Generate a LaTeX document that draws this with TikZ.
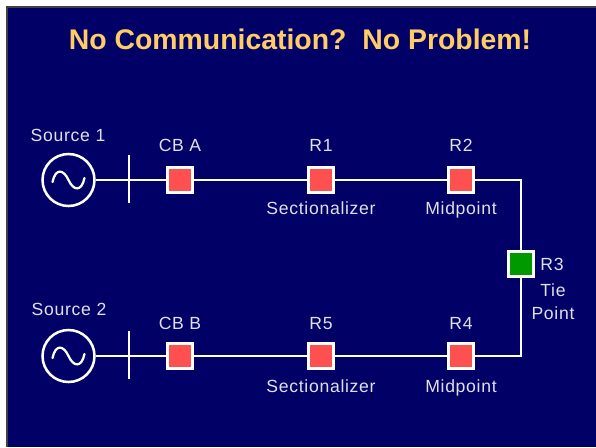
\documentclass[tikz,border=0pt]{standalone}
\usepackage{fontspec}
\setmainfont{Liberation Sans}
\usetikzlibrary{positioning}
\usetikzlibrary{calc}
\definecolor{slide}{HTML}{000066}
\definecolor{title}{HTML}{FFCC66}
\definecolor{recloser}{HTML}{FF5050}
\definecolor{tiegreen}{HTML}{009900}
\tikzset{
    line/.style={draw=white, line width=2pt},
    source/.style={circle, draw=white, line width=1.9pt, minimum size=39pt, inner sep=0pt},
    switchbox/.style={draw=white, fill=recloser, line width=2pt, minimum size=18.8pt, inner sep=0pt},
    lbl/.style={anchor=base, text=white!88!slide, font=\fontsize{13.2}{15.5}\selectfont\addfontfeature{LetterSpace=4}, inner sep=0pt, align=center}
}

\begin{document}
\begin{tikzpicture}[x=0.75pt, y=-0.75pt]
        \useasboundingbox (0,0) rectangle (596,447);
        \fill [white] (0,0) rectangle (596,447);
        \fill [black!75] (6,6) rectangle (596,447);
        \fill [slide] (8,8) rectangle (596,447);
        \node [text=title, inner sep=0pt, font=\fontsize{21.3}{25}\selectfont\bfseries] (heading) at (300,39) {No Communication?\ \ No Problem!};

        \node [source] (src1) at (68.5,180) {};
        \node [source] (src2) at (68.5,356) {};
        \foreach \s in {src1, src2} {
            \draw [white, line width=1.7pt, line cap=round] ($(\s.center)+(-16,2)$) .. controls ($(\s.center)+(-13,-12)$) and ($(\s.center)+(-5,-11)$) .. (\s.center) .. controls ($(\s.center)+(5,11)$) and ($(\s.center)+(13,12)$) .. ($(\s.center)+(16,-2)$);
        }
        \coordinate (bus1top) at (129,155);
        \coordinate (bus1bot) at (129,203);
        \coordinate (bus2top) at (129,331);
        \coordinate (bus2bot) at (129,379);

        \node [switchbox] (cba) at (180,180) {};
        \node [switchbox] (r1) at (321,180) {};
        \node [switchbox] (r2) at (461,180) {};
        \node [switchbox, fill=tiegreen] (r3) at (521,264) {};
        \node [switchbox] (r4) at (461,356) {};
        \node [switchbox] (r5) at (321,356) {};
        \node [switchbox] (cbb) at (180,356) {};

        \draw [line] (bus1top) -- (bus1bot);
        \draw [line] (bus2top) -- (bus2bot);
        \draw [line] (src1) -- (cba);
        \draw [line] (src2) -- (cbb);
        \draw [line] (cba) -- (r1);
        \draw [line] (r1) -- (r2);
        \draw [line] (r2) -| (r3);
        \draw [line] (r3) |- (r4);
        \draw [line] (r4) -- (r5);
        \draw [line] (r5) -- (cbb);

        \node [lbl] (lsrc1) at (68,141) {Source 1};
        \node [lbl] (lsrc2) at (69,315) {Source 2};
        \node [lbl] (lcba) at (180,151) {CB A};
        \node [lbl] (lr1) at (321,151) {R1};
        \node [lbl] (lr2) at (461,151) {R2};
        \node [lbl] (lcbb) at (180,329) {CB B};
        \node [lbl] (lr5) at (321,329) {R5};
        \node [lbl] (lr4) at (461,329) {R4};
        \node [lbl] (lsec1) at (321,214) {Sectionalizer};
        \node [lbl] (lmid1) at (461,214) {Midpoint};
        \node [lbl] (lsec2) at (321,392) {Sectionalizer};
        \node [lbl] (lmid2) at (461,392) {Midpoint};
        \node [lbl] (lr3) at (552,270) {R3};
        \node [lbl] (ltie) at (553,296.5) {Tie};
        \node [lbl] (lpoint) at (553,319) {Point};
    \end{tikzpicture}
\end{document}
